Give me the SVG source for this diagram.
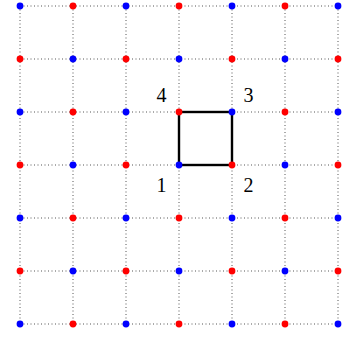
<svg xmlns="http://www.w3.org/2000/svg" width="345" height="339" viewBox="0 0 345 339">
<style>
.g{stroke:#555;stroke-width:1;stroke-dasharray:1 2.5;fill:none}
.b{fill:#0000ff}.r{fill:#ff0000}
circle{r:3.4px}
.t{font-family:"Liberation Serif",serif;font-size:20px;fill:#000;text-anchor:middle}
</style>
<rect width="345" height="339" fill="#fff"/>
<g id="connectors">
<g class="g">
<path d="M20,6V324M73,6V324M126,6V324M179,6V324M232,6V324M285,6V324M338,6V324"/>
<path d="M20,6H338M20,59H338M20,112H338M20,165H338M20,218H338M20,271H338M20,324H338"/>
</g>
<rect x="179" y="112" width="53" height="53" fill="none" stroke="#000" stroke-width="2.4"/>
</g>
<g id="dots">
<g id="row0"><circle class="b" cx="20" cy="6" r="3.4"/><circle class="r" cx="73" cy="6" r="3.4"/><circle class="b" cx="126" cy="6" r="3.4"/><circle class="r" cx="179" cy="6" r="3.4"/><circle class="b" cx="232" cy="6" r="3.4"/><circle class="r" cx="285" cy="6" r="3.4"/><circle class="b" cx="338" cy="6" r="3.4"/></g>
<g id="row1"><circle class="r" cx="20" cy="59" r="3.4"/><circle class="b" cx="73" cy="59" r="3.4"/><circle class="r" cx="126" cy="59" r="3.4"/><circle class="b" cx="179" cy="59" r="3.4"/><circle class="r" cx="232" cy="59" r="3.4"/><circle class="b" cx="285" cy="59" r="3.4"/><circle class="r" cx="338" cy="59" r="3.4"/></g>
<g id="row2"><circle class="b" cx="20" cy="112" r="3.4"/><circle class="r" cx="73" cy="112" r="3.4"/><circle class="b" cx="126" cy="112" r="3.4"/><circle class="r" cx="179" cy="112" r="3.4"/><circle class="b" cx="232" cy="112" r="3.4"/><circle class="r" cx="285" cy="112" r="3.4"/><circle class="b" cx="338" cy="112" r="3.4"/></g>
<g id="row3"><circle class="r" cx="20" cy="165" r="3.4"/><circle class="b" cx="73" cy="165" r="3.4"/><circle class="r" cx="126" cy="165" r="3.4"/><circle class="b" cx="179" cy="165" r="3.4"/><circle class="r" cx="232" cy="165" r="3.4"/><circle class="b" cx="285" cy="165" r="3.4"/><circle class="r" cx="338" cy="165" r="3.4"/></g>
<g id="row4"><circle class="b" cx="20" cy="218" r="3.4"/><circle class="r" cx="73" cy="218" r="3.4"/><circle class="b" cx="126" cy="218" r="3.4"/><circle class="r" cx="179" cy="218" r="3.4"/><circle class="b" cx="232" cy="218" r="3.4"/><circle class="r" cx="285" cy="218" r="3.4"/><circle class="b" cx="338" cy="218" r="3.4"/></g>
<g id="row5"><circle class="r" cx="20" cy="271" r="3.4"/><circle class="b" cx="73" cy="271" r="3.4"/><circle class="r" cx="126" cy="271" r="3.4"/><circle class="b" cx="179" cy="271" r="3.4"/><circle class="r" cx="232" cy="271" r="3.4"/><circle class="b" cx="285" cy="271" r="3.4"/><circle class="r" cx="338" cy="271" r="3.4"/></g>
<g id="row6"><circle class="b" cx="20" cy="324" r="3.4"/><circle class="r" cx="73" cy="324" r="3.4"/><circle class="b" cx="126" cy="324" r="3.4"/><circle class="r" cx="179" cy="324" r="3.4"/><circle class="b" cx="232" cy="324" r="3.4"/><circle class="r" cx="285" cy="324" r="3.4"/><circle class="b" cx="338" cy="324" r="3.4"/></g>
</g>
<g id="labels">
<text class="t" x="161.5" y="102">4</text>
<text class="t" x="248.5" y="102">3</text>
<text class="t" x="161.5" y="191.5">1</text>
<text class="t" x="248.5" y="191.5">2</text>
</g>
</svg>
